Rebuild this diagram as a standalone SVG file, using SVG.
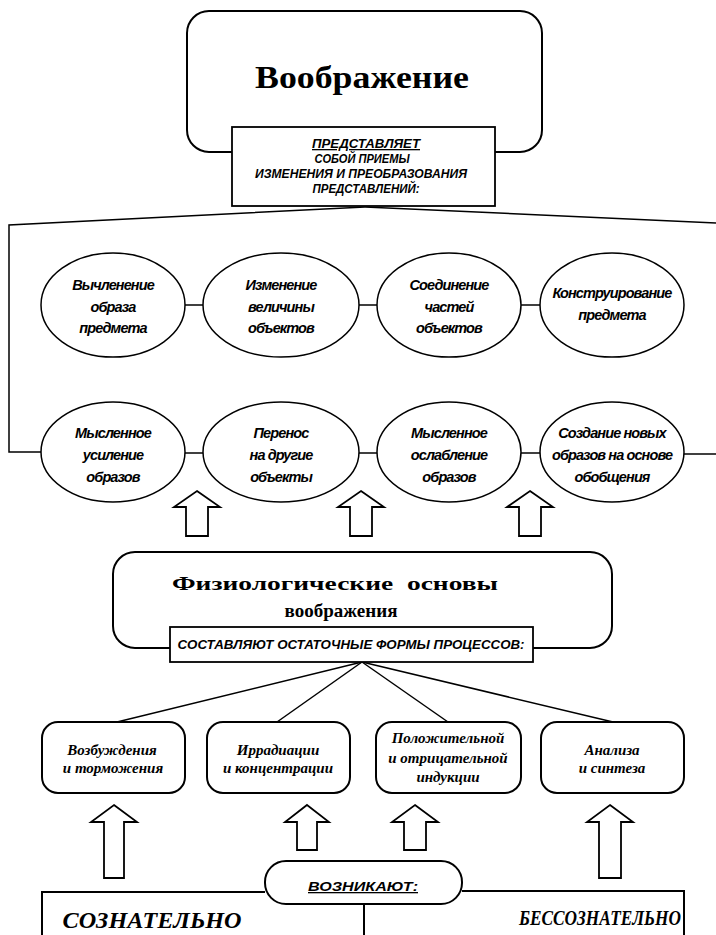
<svg xmlns="http://www.w3.org/2000/svg" width="716" height="935" viewBox="0 0 716 935">
<style>
.box{fill:#fff;stroke:#000;stroke-width:2}
.lbl{fill:#fff;stroke:#000;stroke-width:1.8}
.ell{fill:#fff;stroke:#000;stroke-width:1.5}
.ln{fill:none;stroke:#000;stroke-width:1.5}
.arr{fill:#fff;stroke:#000;stroke-width:1.8;stroke-linejoin:miter}
.et{font-family:"Liberation Sans",Arial,sans-serif;font-weight:bold;font-style:italic;font-size:14.5px;text-anchor:middle;letter-spacing:-0.9px}
.lt{font-family:"Liberation Sans",Arial,sans-serif;font-weight:bold;font-style:italic;font-size:13px;text-anchor:middle}
.bt{font-family:"Liberation Serif","Times New Roman",serif;font-weight:bold;font-style:italic;font-size:15px;text-anchor:middle}
.hd{font-family:"Liberation Serif","Times New Roman",serif;font-weight:bold;text-anchor:middle}
.big{font-family:"Liberation Serif","Times New Roman",serif;font-weight:bold;font-style:italic;text-anchor:middle}
</style>

<g id="connectors">
  <polyline class="ln" points="365,207 9,225 9,452 42,452"/>
  <line class="ln" x1="365" y1="207" x2="716" y2="223"/>
  <line class="ln" x1="185" y1="305" x2="203" y2="305"/>
  <line class="ln" x1="359" y1="305" x2="378" y2="305"/>
  <line class="ln" x1="521" y1="305" x2="541" y2="305"/>
  <line class="ln" x1="185" y1="453" x2="203" y2="453"/>
  <line class="ln" x1="359" y1="453" x2="378" y2="453"/>
  <line class="ln" x1="521" y1="453" x2="541" y2="453"/>
  <line class="ln" x1="684" y1="454" x2="716" y2="454"/>
  <line class="ln" x1="362" y1="662" x2="117" y2="722"/>
  <line class="ln" x1="362" y1="662" x2="277" y2="722"/>
  <line class="ln" x1="362" y1="662" x2="448" y2="722"/>
  <line class="ln" x1="362" y1="662" x2="613" y2="722"/>
  <path class="arr" d="M197,491 L220,507 L208,507 L208,536 L186,536 L186,507 L174,507 Z"/>
  <path class="arr" d="M361,491 L384,507 L372,507 L372,536 L350,536 L350,507 L338,507 Z"/>
  <path class="arr" d="M530,491 L553,507 L541,507 L541,536 L519,536 L519,507 L507,507 Z"/>
  <path class="arr" d="M114,805 L137,822 L124,822 L124,878 L104,878 L104,822 L91,822 Z"/>
  <path class="arr" d="M307,805 L329,822 L317,822 L317,850 L297,850 L297,822 L285,822 Z"/>
  <path class="arr" d="M415,805 L438,822 L426,822 L426,850 L404,850 L404,822 L392,822 Z"/>
  <path class="arr" d="M610,805 L633,822 L621,822 L621,878 L599,878 L599,822 L587,822 Z"/>
</g>

<g id="imagination">
  <rect class="box" x="187" y="11" width="355" height="141" rx="22"/>
  <text class="hd" x="362" y="88" font-size="31" textLength="214" lengthAdjust="spacingAndGlyphs">Воображение</text>
</g>
<g id="represents">
  <rect class="lbl" x="232" y="127" width="263" height="79"/>
  <text class="lt" x="366" y="148" text-decoration="underline" textLength="108" lengthAdjust="spacingAndGlyphs">ПРЕДСТАВЛЯЕТ</text>
  <text class="lt" x="362" y="163" textLength="95" lengthAdjust="spacingAndGlyphs">СОБОЙ ПРИЕМЫ</text>
  <text class="lt" x="361" y="178" textLength="212" lengthAdjust="spacingAndGlyphs">ИЗМЕНЕНИЯ И ПРЕОБРАЗОВАНИЯ</text>
  <text class="lt" x="366" y="193" textLength="107" lengthAdjust="spacingAndGlyphs">ПРЕДСТАВЛЕНИЙ:</text>
</g>

<g id="e1">
  <ellipse class="ell" cx="113" cy="305" rx="72" ry="52"/>
  <text class="et" x="113" y="290">Вычленение</text>
  <text class="et" x="113" y="312">образа</text>
  <text class="et" x="113" y="333">предмета</text>
</g>
<g id="e2">
  <ellipse class="ell" cx="281" cy="305" rx="78" ry="52"/>
  <text class="et" x="281" y="290">Изменение</text>
  <text class="et" x="281" y="312">величины</text>
  <text class="et" x="281" y="333">объектов</text>
</g>
<g id="e3">
  <ellipse class="ell" cx="449" cy="305" rx="72" ry="52"/>
  <text class="et" x="449" y="290">Соединение</text>
  <text class="et" x="449" y="312">частей</text>
  <text class="et" x="449" y="333">объектов</text>
</g>
<g id="e4">
  <ellipse class="ell" cx="612" cy="305" rx="72" ry="52"/>
  <text class="et" x="612" y="298">Конструирование</text>
  <text class="et" x="612" y="320">предмета</text>
</g>

<g id="e5">
  <ellipse class="ell" cx="113" cy="452" rx="72" ry="50"/>
  <text class="et" x="113" y="438">Мысленное</text>
  <text class="et" x="113" y="460">усиление</text>
  <text class="et" x="113" y="482">образов</text>
</g>
<g id="e6">
  <ellipse class="ell" cx="281" cy="452" rx="78" ry="50"/>
  <text class="et" x="281" y="438">Перенос</text>
  <text class="et" x="281" y="460">на другие</text>
  <text class="et" x="281" y="482">объекты</text>
</g>
<g id="e7">
  <ellipse class="ell" cx="449" cy="452" rx="72" ry="50"/>
  <text class="et" x="449" y="438">Мысленное</text>
  <text class="et" x="449" y="460">ослабление</text>
  <text class="et" x="449" y="482">образов</text>
</g>
<g id="e8">
  <ellipse class="ell" cx="612" cy="452" rx="72" ry="50"/>
  <text class="et" x="612" y="438">Создание новых</text>
  <text class="et" x="612" y="460">образов на основе</text>
  <text class="et" x="612" y="482">обобщения</text>
</g>

<g id="physiology">
  <rect class="box" x="113" y="552" width="499" height="96" rx="22"/>
  <text class="hd" x="335" y="590" font-size="19" textLength="326" lengthAdjust="spacingAndGlyphs" xml:space="preserve">Физиологические  основы</text>
  <text class="hd" x="341" y="617" font-size="19" textLength="113" lengthAdjust="spacingAndGlyphs">воображения</text>
</g>
<g id="residual">
  <rect class="lbl" x="170" y="627" width="363" height="35"/>
  <text class="lt" x="351" y="649" font-size="14" textLength="347" lengthAdjust="spacingAndGlyphs">СОСТАВЛЯЮТ ОСТАТОЧНЫЕ ФОРМЫ ПРОЦЕССОВ:</text>
</g>

<g id="b1">
  <rect class="box" x="42" y="722" width="143" height="71" rx="16"/>
  <text class="bt" x="112" y="755">Возбуждения</text>
  <text class="bt" x="113" y="773">и торможения</text>
</g>
<g id="b2">
  <rect class="box" x="207" y="722" width="143" height="71" rx="16"/>
  <text class="bt" x="278" y="755">Иррадиации</text>
  <text class="bt" x="278" y="773">и концентрации</text>
</g>
<g id="b3">
  <rect class="box" x="376" y="722" width="145" height="71" rx="16"/>
  <text class="bt" x="448" y="743">Положительной</text>
  <text class="bt" x="448" y="763">и отрицательной</text>
  <text class="bt" x="448" y="782">индукции</text>
</g>
<g id="b4">
  <rect class="box" x="541" y="722" width="143" height="71" rx="16"/>
  <text class="bt" x="612" y="755">Анализа</text>
  <text class="bt" x="612" y="773">и синтеза</text>
</g>

<g id="table">
  <polyline class="box" fill="none" points="42,940 42,892 265,892"/>
  <polyline class="box" fill="none" points="462,891 684,891 684,940"/>
  <line class="box" x1="364" y1="904" x2="364" y2="940"/>
  <text class="big" x="152" y="928" font-size="24" textLength="179" lengthAdjust="spacingAndGlyphs">СОЗНАТЕЛЬНО</text>
  <text class="big" x="600" y="925" font-size="21" textLength="162" lengthAdjust="spacingAndGlyphs">БЕССОЗНАТЕЛЬНО</text>
</g>
<g id="arise">
  <rect class="box" x="265" y="861" width="197" height="43" rx="21"/>
  <text class="lt" x="363" y="891" font-size="15" text-decoration="underline" textLength="110" lengthAdjust="spacingAndGlyphs">ВОЗНИКАЮТ:</text>
</g>
</svg>
